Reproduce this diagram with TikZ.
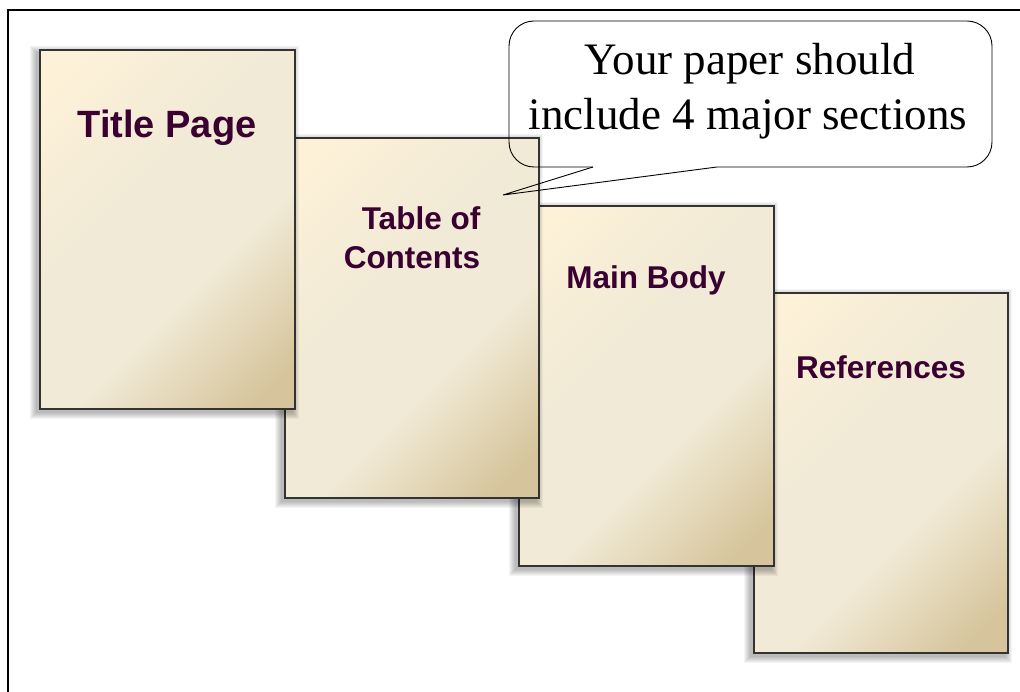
\documentclass[tikz,border=0pt]{standalone}
\usepackage{fontspec}
\setmainfont{Liberation Serif}
\setsansfont{Liberation Sans}
\definecolor{pglight}{HTML}{FDF1D8}
\definecolor{pgmid}{HTML}{F1EAD6}
\definecolor{pgdark}{HTML}{D6C59C}
\definecolor{labelcol}{HTML}{3A0032}
\pgfdeclareverticalshading{pageshade}{100bp}{color(0bp)=(pgdark); color(20bp)=(pgdark); color(40bp)=(pgmid); color(58bp)=(pgmid); color(80bp)=(pglight); color(100bp)=(pglight)}
\newcommand\sheetshadow[4]{%
  \foreach \k in {1,...,7}{\fill[black, opacity=0.045] ({#1-3-\k},{#2+3-\k}) rectangle ({#3-3+\k},{#4+3+\k});}}
\tikzset{
  sheet/.style={draw=black!80, line width=1.2pt, shading=pageshade, shading angle=45, inner sep=0pt},
  sheetlabel/.style={font=\sffamily\bfseries, text=labelcol, align=center, inner sep=0pt},
  callout/.style={draw=black, line width=0.9pt},
  callouttext/.style={inner sep=0pt, anchor=base, font=\fontsize{45}{46}\selectfont},
}
\begin{document}
\begin{tikzpicture}[x=1pt,y=-1pt]
\useasboundingbox (0,0) rectangle (1020,692);
% outer frame
\draw[line width=2pt] (8,710) -- (8,10) -- (1030,10);
% pages (back to front)
\sheetshadow{754}{293}{1008}{653}
\node[sheet, minimum width=254pt, minimum height=360pt] (ref) at (881,473) {};
\sheetshadow{519}{206}{774}{566}
\node[sheet, minimum width=255pt, minimum height=360pt] (body) at (646.5,386) {};
\sheetshadow{285}{138}{539}{498}
\node[sheet, minimum width=254pt, minimum height=360pt] (toc) at (412,318) {};
\sheetshadow{40}{50}{295}{409}
\node[sheet, minimum width=255pt, minimum height=359pt] (title) at (167.5,229.5) {};
% labels
\node[sheetlabel, font=\sffamily\bfseries\fontsize{38}{40}\selectfont] (tl) at (167,128) {Title Page};
\node[sheetlabel, font=\sffamily\bfseries\fontsize{31.5}{39}\selectfont, align=right] (tocl) at (412,238) {Table of\\Contents};
\node[sheetlabel, font=\sffamily\bfseries\fontsize{31.5}{38}\selectfont] (bl) at (646,280) {Main Body};
\node[sheetlabel, font=\sffamily\bfseries\fontsize{31.5}{38}\selectfont] (rl) at (881,367) {References};
% callout
\coordinate (pa) at (593,167);
\coordinate (pb) at (717,167);
\coordinate (tip) at (503,195);
\draw[callout, rounded corners=25pt] (pb) -- (992,167) -- (992,21) -- (509,21) -- (509,167) -- (pa);
\draw[callout, line join=miter] (pa) -- (tip) -- (pb);
\node[callouttext] (ct1) at (750,75) {Your paper should};
\node[callouttext] (ct2) at (748,130) {include 4 major sections};
\end{tikzpicture}
\end{document}
